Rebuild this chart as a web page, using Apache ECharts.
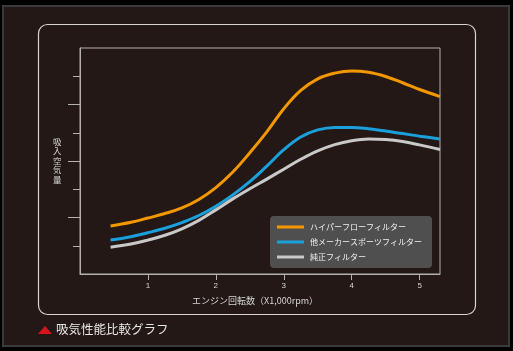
<!DOCTYPE html>
<html>
<head>
<meta charset="utf-8">
<script src="https://cdn.jsdelivr.net/npm/echarts@6/dist/echarts.min.js"></script>
<style>
  html, body { margin: 0; padding: 0; background: #000; }
  #chart { width: 513px; height: 351px; }
</style>
</head>
<body>
<div id="chart"></div>
<script>
  // rpm (x1000)
  var rpm = [0.45, 0.75, 1.0, 1.25, 1.5, 1.75, 2.0, 2.25, 2.5, 2.75, 3.0, 3.25, 3.5, 3.75, 4.0, 4.25, 4.5, 4.75, 5.0, 5.3];
  // 吸入空気量 (no scale printed, relative units)
  var hyperFlow = [1.70, 1.83, 1.98, 2.14, 2.34, 2.64, 3.06, 3.61, 4.29, 5.03, 5.85, 6.50, 6.91, 7.11, 7.19, 7.14, 6.99, 6.77, 6.53, 6.28];
  var otherSport = [1.20, 1.32, 1.46, 1.62, 1.82, 2.07, 2.40, 2.80, 3.27, 3.82, 4.40, 4.85, 5.10, 5.19, 5.19, 5.14, 5.06, 4.97, 4.88, 4.78];
  var genuine = [0.95, 1.06, 1.20, 1.37, 1.60, 1.90, 2.27, 2.66, 3.02, 3.36, 3.71, 4.06, 4.36, 4.58, 4.72, 4.78, 4.76, 4.69, 4.57, 4.41];
  var names = ['ハイパーフローフィルター', '他メーカースポーツフィルター', '純正フィルター'];
  var xTicks = [1, 2, 3, 4, 5];
  var yLongTicks = [2, 4, 6];
  var yShortTicks = [1, 3, 5, 7];

  var jp = '"Noto Sans CJK JP", sans-serif';

  function pairs(ys) {
    return rpm.map(function (x, i) { return [x, ys[i]]; });
  }

  function line(name, ys, color) {
    return {
      name: name,
      type: 'line',
      smooth: 0.4,
      showSymbol: false,
      data: pairs(ys),
      lineStyle: { color: color, width: 3 },
      itemStyle: { color: color },
      z: 3
    };
  }

  var myChart = echarts.init(document.getElementById('chart'));

  var option = {
    backgroundColor: '#000',
    animation: false,
    graphic: [
      {
        type: 'rect', z: -10,
        shape: { x: 3, y: 6, width: 506, height: 340 },
        style: { fill: '#231815', stroke: '#3a3a3a', lineWidth: 2 }
      },
      {
        type: 'rect', z: -9,
        shape: { x: 38.5, y: 24.5, width: 437, height: 290, r: 9 },
        style: { fill: 'none', stroke: '#d8d4d2', lineWidth: 1.2 }
      },
      {
        type: 'text', left: 192, top: 296,
        style: { text: 'エンジン回転数（X1,000rpm）', fill: '#d6d6d6', font: '9px ' + jp }
      },
      {
        type: 'text', left: 53, top: 137,
        style: { text: '吸\n入\n空\n気\n量', fill: '#d6d6d6', font: '8.5px ' + jp, lineHeight: 9.5 }
      },
      {
        type: 'polygon',
        shape: { points: [[45, 326], [38, 334], [52, 334]] },
        style: { fill: '#d7141c' }
      },
      {
        type: 'text', left: 56, top: 323,
        style: { text: '吸気性能比較グラフ', fill: '#e6e6e6', font: '12.5px ' + jp }
      }
    ],
    legend: {
      orient: 'vertical',
      left: 270,
      top: 216,
      padding: [5, 10, 5, 7],
      itemGap: 3,
      itemWidth: 27,
      itemHeight: 3,
      icon: 'rect',
      backgroundColor: 'rgba(85,85,85,0.92)',
      borderRadius: 4,
      textStyle: { color: '#f2f2f2', fontSize: 8, fontFamily: jp, lineHeight: 12, padding: [0, 0, 0, 1] },
      data: names
    },
    grid: {
      left: 80, right: 73, top: 48, bottom: 77,
      show: true,
      borderColor: '#b4b0ae',
      borderWidth: 1
    },
    xAxis: {
      type: 'value',
      min: 0,
      max: 5.3,
      interval: 1,
      splitLine: { show: false },
      axisLine: { lineStyle: { color: '#b4b0ae', width: 1 } },
      axisTick: { show: true, length: 6, lineStyle: { color: '#b4b0ae' }, customValues: xTicks },
      axisLabel: { color: '#d6d6d6', fontSize: 8, fontFamily: 'Liberation Sans', margin: 8, customValues: xTicks }
    },
    yAxis: [
      {
        type: 'value', min: 0, max: 8, interval: 1,
        position: 'left',
        splitLine: { show: false },
        axisLine: { show: true, lineStyle: { color: '#b4b0ae', width: 1 } },
        axisTick: { show: true, length: 12, lineStyle: { color: '#b4b0ae' }, customValues: yLongTicks },
        axisLabel: { show: false }
      },
      {
        type: 'value', min: 0, max: 8, interval: 1,
        position: 'left',
        splitLine: { show: false },
        axisLine: { show: false },
        axisTick: { show: true, length: 7, lineStyle: { color: '#b4b0ae' }, customValues: yShortTicks },
        axisLabel: { show: false }
      }
    ],
    series: [
      line(names[0], hyperFlow, '#f39800'),
      line(names[1], otherSport, '#1aa0dc'),
      line(names[2], genuine, '#c9c9c9')
    ]
  };

  myChart.setOption(option);
</script>
</body>
</html>
